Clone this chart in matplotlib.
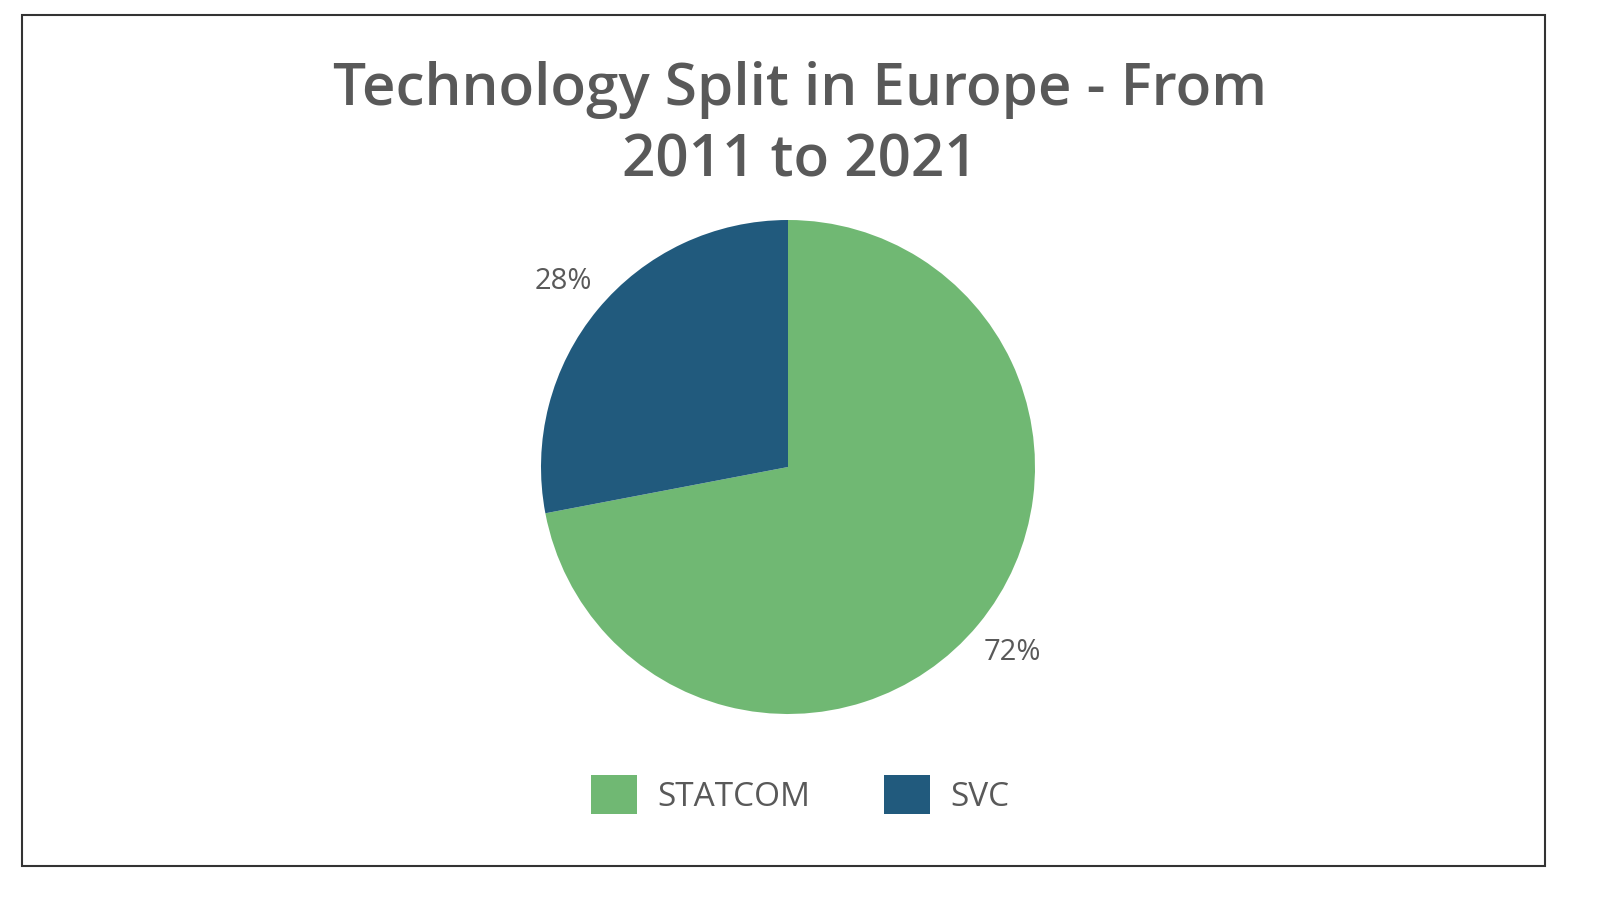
import matplotlib.pyplot as plt
from matplotlib.patches import Rectangle

categories = ['STATCOM', 'SVC']
shares = [72, 28]
colors = ['#70B873', '#215A7D']
title = 'Technology Split in Europe - From\n2011 to 2021'
text_color = '#595959'

plt.rcParams['font.family'] = 'Open Sans'
fig = plt.figure(figsize=(16, 9), dpi=100)
fig.patches.append(Rectangle((22/1600, 34/900), 1523/1600, 851/900, transform=fig.transFigure,
                             fill=False, edgecolor='#333333', linewidth=1.5))

ax = fig.add_axes([541/1600, 186/900, 494/1600, 494/900])
wedges, texts, autotexts = ax.pie(shares, colors=colors, startangle=90, counterclock=False,
                                  autopct='%1.0f%%', pctdistance=1.18,
                                  textprops={'fontsize': 21, 'color': text_color})
ax.set_aspect('equal')
ax.set_xlim(-1, 1)
ax.set_ylim(-1, 1)

fig.text(0.5, 0.86, title, ha='center', va='center', fontsize=42, fontweight='semibold',
         color=text_color, linespacing=1.3)

fig.legend(wedges, categories, loc='center', bbox_to_anchor=(0.5, 0.117), ncol=2, frameon=False,
           fontsize=24, labelcolor=text_color, handlelength=1.4, handleheight=1.4,
           columnspacing=2.2, handletextpad=0.6)

fig.savefig('out.png', dpi=100)
